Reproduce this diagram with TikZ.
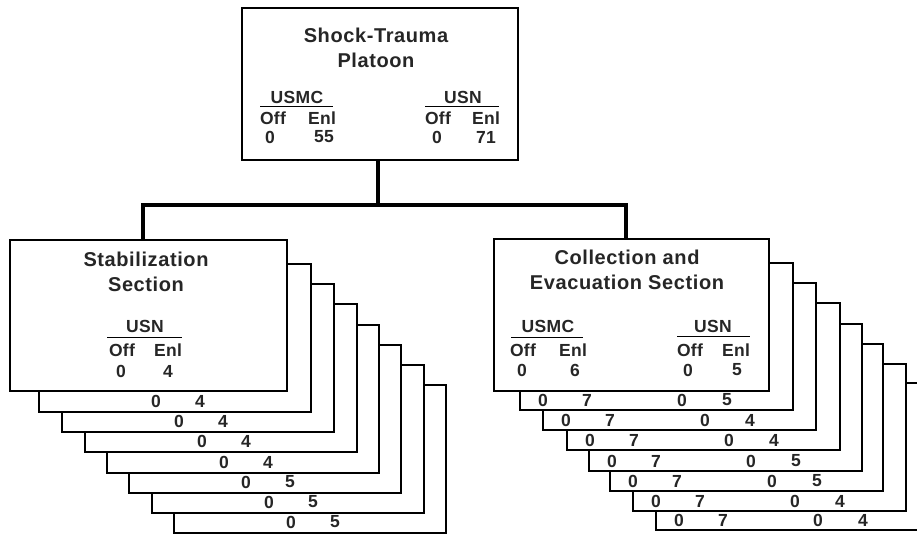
\documentclass[tikz,border=0pt]{standalone}
\usepackage{fontspec}
\setmainfont{Liberation Sans}
\newfontfamily\ttlfont{Liberation Sans Bold}[LetterSpace=3]
\newfontfamily\lblfont{Liberation Sans Bold}[LetterSpace=2]
\begin{document}
\begin{tikzpicture}[x=1pt,y=-1pt,
  backbox/.style={draw, line width=1.6pt, fill=white, anchor=north west, inner sep=0pt, minimum width=272pt, minimum height=148pt},
  frontbox/.style={draw, line width=1.8pt, fill=white, anchor=north west, inner sep=0pt, minimum width=277pt, minimum height=151pt},
  conn/.style={line width=4pt, line join=miter},
  ttl/.style={inner sep=0pt, align=center, text=black!85, font=\ttlfont\fontsize{20}{25}\selectfont},
  lbl/.style={inner sep=0pt, text=black!85, font=\lblfont\fontsize{17.5}{20}\selectfont},
  rule/.style={line width=1pt}]
\useasboundingbox (0,0) rectangle (917,533);
\clip (0,0) rectangle (917,533);

% ---- left stack
\foreach \l/\t/\v [count=\i] in {173/384/5,151/364/5,128/344/5,106/324/4,84/303/4,61/283/4,38/263/4} {
  \node[backbox] (sb\i) at (\l,\t) {};
  \node[lbl] (sbo\i) at (\l+118,\t+138) {0};
  \node[lbl] (sbe\i) at (\l+162,\t+138) {\v};
}
\node[frontbox] (stab) at (9,239) {};
\node[ttl] (stabt) at (146,272) {Stabilization\\Section};
\node[lbl] (stabn) at (145,326) {USN};
\draw[rule] (107,337) -- (182,337);
\node[lbl] (stabo) at (122,350) {Off};
\node[lbl] (stabe) at (168,350) {Enl};
\node[lbl] (stabo0) at (121,371) {0};
\node[lbl] (stabe0) at (168,371) {4};

% ---- right stack
\foreach \l/\t/\v [count=\i] in {655/382/4,632/363/4,609/343/5,588/323/5,566/302/4,542/282/4,519/262/5} {
  \node[backbox, minimum height=147pt, minimum width=273pt] (cb\i) at (\l,\t) {};
  \node[lbl] (cbo\i) at (\l+24,\t+138) {0};
  \node[lbl] (cbe\i) at (\l+68,\t+138) {7};
  \node[lbl] (cbn\i) at (\l+163,\t+138) {0};
  \node[lbl] (cbm\i) at (\l+208,\t+138) {\v};
}
\node[frontbox, minimum width=275pt, minimum height=152pt] (coll) at (493,238) {};
\node[ttl] (collt) at (627,269.5) {Collection and\\Evacuation Section};
\node[lbl] (collm) at (548,326) {USMC};
\draw[rule] (511,337) -- (583,337);
\node[lbl] (collmo) at (523,350) {Off};
\node[lbl] (collme) at (573,350) {Enl};
\node[lbl] (collmo0) at (522,370) {0};
\node[lbl] (collme0) at (575,370) {6};
\node[lbl] (colln) at (713,326) {USN};
\draw[rule] (677,336) -- (750,336);
\node[lbl] (collno) at (690,350) {Off};
\node[lbl] (collne) at (736,350) {Enl};
\node[lbl] (collno0) at (688,370) {0};
\node[lbl] (collne0) at (737,370) {5};

% ---- top box
\node[frontbox, line width=2.2pt, minimum width=276pt, minimum height=152pt] (top) at (241,7) {};
\node[ttl] (topt) at (376,47.5) {Shock-Trauma\\Platoon};
\node[lbl] (topm) at (297,97) {USMC};
\draw[rule] (260,106) -- (333,106);
\node[lbl] (topmo) at (273,118) {Off};
\node[lbl] (topme) at (322,118) {Enl};
\node[lbl] (topmo0) at (270,137) {0};
\node[lbl] (topme0) at (324,137) {55};
\node[lbl] (topn) at (463,97) {USN};
\draw[rule] (425,106) -- (499,106);
\node[lbl] (topno) at (438,118) {Off};
\node[lbl] (topne) at (486,118) {Enl};
\node[lbl] (topno0) at (437,137) {0};
\node[lbl] (topne0) at (486,137) {71};

% ---- connectors
\draw[conn] ([xshift=-2pt]top.south) -- ++(0,44) coordinate (j);
\draw[conn] ([xshift=-5pt]stab.north) |- (j) -| ([xshift=-5pt]coll.north);
\end{tikzpicture}
\end{document}
